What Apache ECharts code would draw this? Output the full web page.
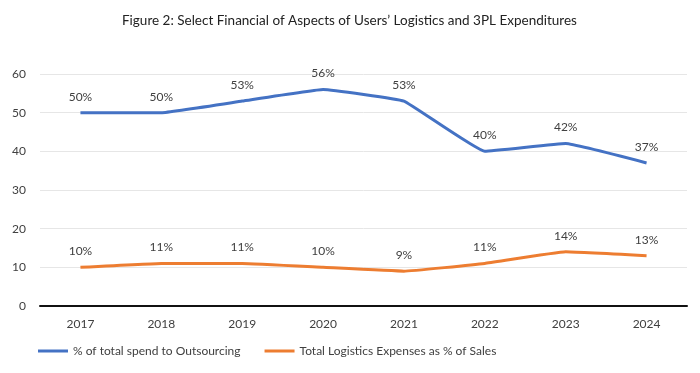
<!DOCTYPE html>
<html><head><meta charset="utf-8">
<script src="https://cdn.jsdelivr.net/npm/echarts@6/dist/echarts.min.js"></script>
<style>html,body{margin:0;padding:0;background:#fff}#c{width:700px;height:373px}</style>
</head><body><div id="c"></div>
<script>
const categories = ['2017','2018','2019','2020','2021','2022','2023','2024'];
const outsourcing = [50,50,53,56,53,40,42,37];
const logistics = [10,11,11,10,9,11,14,13];
const seriesNames = ['% of total spend to Outsourcing','Total Logistics Expenses as % of Sales'];
const colors = ['#4472C4','#ED7D31'];
const titleText = "Figure 2: Select Financial of Aspects of Users\u2019 Logistics and 3PL Expenditures";
const font = 'Lato';
const chart = echarts.init(document.getElementById('c'));
const lbl = {show:true,position:'top',distance:9,formatter:'{c}%',fontFamily:font,fontSize:12,color:'#404040'};
chart.setOption({
  animation:false,
  textStyle:{fontFamily:font},
  title:{text:titleText,left:117,top:9,textStyle:{fontFamily:font,fontSize:13.5,fontWeight:'normal',color:'#222'}},
  grid:{left:40,right:13,top:74,bottom:67},
  legend:{left:33,top:340,icon:'rect',itemWidth:30,itemHeight:3,itemGap:24,
    textStyle:{fontFamily:font,fontSize:12,color:'#404040'},
    data:seriesNames.map((n,i)=>({name:n,itemStyle:{color:colors[i],opacity:1}}))},
  xAxis:{type:'category',data:categories,boundaryGap:true,
    axisLine:{lineStyle:{color:'#111',width:2}},axisTick:{show:false},
    axisLabel:{fontFamily:font,fontSize:12,color:'#404040',margin:12}},
  yAxis:{type:'value',min:0,max:60,interval:10,
    axisLine:{show:false},axisTick:{show:false},
    splitLine:{lineStyle:{color:'#e6e6e6',width:1}},
    axisLabel:{fontFamily:font,fontSize:12,color:'#404040',margin:14}},
  series:[
    {name:seriesNames[0],type:'line',data:outsourcing,symbol:'circle',symbolSize:2,showSymbol:true,smooth:0.08,
     lineStyle:{color:colors[0],width:3},itemStyle:{color:'rgba(0,0,0,0)'},
     label:lbl},
    {name:seriesNames[1],type:'line',data:logistics,symbol:'circle',symbolSize:2,showSymbol:true,smooth:0.08,
     lineStyle:{color:colors[1],width:3},itemStyle:{color:'rgba(0,0,0,0)'},
     label:lbl}
  ]
});
</script></body></html>
